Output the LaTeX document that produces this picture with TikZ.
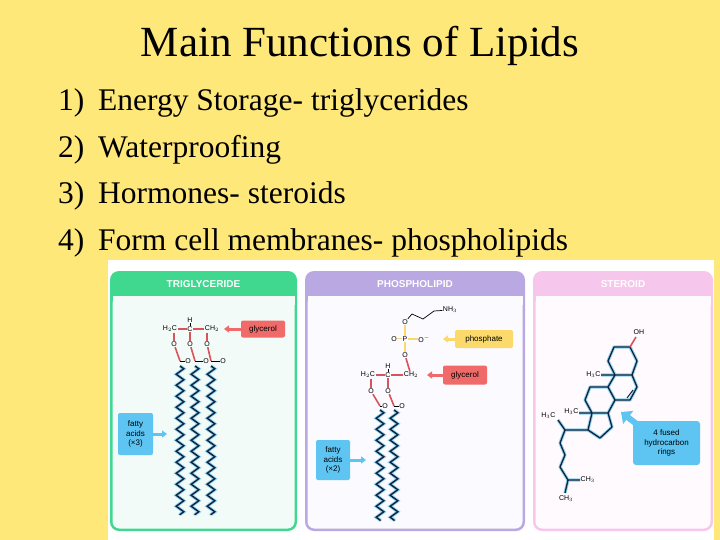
\documentclass[tikz,border=0pt]{standalone}
\usepackage{fontspec}
\setmainfont{Liberation Serif}
\newfontfamily\sans{Liberation Sans}
\usetikzlibrary{decorations.pathmorphing,arrows.meta}
\definecolor{bgy}{HTML}{FFE87A}
\definecolor{tgG}{HTML}{3FD88E}
\definecolor{tgI}{HTML}{F3FBF8}
\definecolor{phP}{HTML}{B9A8E2}
\definecolor{phI}{HTML}{FBFAFE}
\definecolor{stP}{HTML}{F7C6EC}
\definecolor{stI}{HTML}{FEFAFD}
\definecolor{bondR}{HTML}{D9535A}
\definecolor{labR}{HTML}{F06A6A}
\definecolor{labY}{HTML}{FBD96A}
\definecolor{labB}{HTML}{5EC4F2}
\definecolor{chain}{HTML}{10233F}
\definecolor{glow}{HTML}{8FD3F0}
\tikzset{
 chem/.style={font=\sans\fontsize{7}{8}\selectfont, inner sep=0.5pt},
 head/.style={font=\sans\bfseries\fontsize{10}{11}\selectfont, text=white},
 lab/.style={font=\sans\fontsize{8}{9.5}\selectfont, rounded corners=2, inner sep=2pt, align=center},
 rb/.style={bondR, line width=1.6},
 yb/.style={labY, line width=1.6},
 zz/.style={decorate, decoration={zigzag, segment length=11, amplitude=3.8}},
 tail/.style={line width=1.4, chain},
 glowl/.style={line width=3.2, glow},
 item/.style={font=\fontsize{31.5}{34}\selectfont, anchor=base west, inner sep=0},
}
\begin{document}
\begin{tikzpicture}[x=1pt,y=-1pt]
\useasboundingbox (0,0) rectangle (720,540);
\fill[bgy] (0,0) rectangle (720,540);
\node[font=\fontsize{43}{45}\selectfont] (title) at (360,46) {Main Functions of Lipids};
\foreach \n/\t/\y in {1/Energy Storage- triglycerides/111, 2/Waterproofing/158, 3/Hormones- steroids/204, 4/Form cell membranes- phospholipids/250}{
  \node[item] (num\n) at (58,\y) {\n)};
  \node[item] (it\n) at (98,\y) {\t};
}
\fill[white] (108,260) rectangle (714,540);
% panels
\foreach \xa/\xb/\bc/\ic/\nm in {110/297/tgG/tgI/TRIGLYCERIDE, 305/525/phP/phI/PHOSPHOLIPID, 533/713/stP/stI/STEROID}{
  \fill[\bc, rounded corners=9] (\xa,271) rectangle (\xb,531);
  \fill[\ic, rounded corners=7] (\xa+2.5,296) rectangle (\xb-2.5,528.5);
  \fill[\ic] (\xa+2.5,296) rectangle (\xb-2.5,305);
  \node[head] at ({(\xa+\xb)/2},284) {\nm};
}
% ---------- triglyceride
\foreach \x in {180,195,211}{
  \draw[glowl,zz] (\x,366) -- (\x,515);
  \draw[tail,zz] (\x,366) -- (\x,515);
}
\node[chem] (h2c) at (170,329) {H$_2$C};
\node[chem] (c1) at (190,329) {C};
\node[chem] (h1) at (190,320) {H};
\node[chem] (ch2) at (212,329) {CH$_2$};
\draw[rb] (h2c) -- (c1); \draw[rb] (c1) -- (ch2);
\draw[line width=0.5] (c1) -- (h1);
\foreach \i/\x/\xo in {1/174/188, 2/190/206, 3/207/223}{
  \node[chem] (o\i) at (\x,344) {O};
  \node[chem] (oo\i) at (\xo,361) {O};
}
\draw[rb] (h2c.south -| o1) -- (o1); \draw[rb] (c1) -- (o2); \draw[rb] (ch2.south -| o3) -- (o3);
\foreach \i/\x in {1/180,2/195,3/211}{
  \draw[rb] (o\i) -- (\x,361);
  \draw[line width=0.6] (\x,361) -- (oo\i);
}
\node[lab, fill=labR, minimum width=44, minimum height=17] (gly1) at (263,329) {glycerol};
\draw[labR, line width=3, -{Triangle[length=5,width=7]}] (gly1.west) -- (224,329);
\node[lab, fill=labB, minimum width=35, minimum height=42] (fa1) at (135.5,434) {fatty\\acids\\(×3)};
\draw[labB, line width=3, -{Triangle[length=5,width=7]}] (fa1.east) -- (167,434);
% ---------- phospholipid
\foreach \x in {380,394}{
  \draw[glowl,zz] (\x,410) -- (\x,521);
  \draw[tail,zz] (\x,410) -- (\x,521);
}
\node[chem] (nh3) at (450,310) {NH$_3$};
\node[chem] (po1) at (405,322) {O};
\node[chem] (pp) at (405,339) {P};
\node[chem] (pod) at (394,339) {O};
\node[chem] (pom) at (424,339) {O$^-$};
\node[chem] (po2) at (405,355) {O};
\draw[line width=0.7] (po1) -- (412,314) -- (423,319) -- (434,311) -- (nh3);
\draw[yb] (po1) -- (pp); \draw[yb] (pp) -- (po2); \draw[yb] (pp) -- (pom);
\draw[labY, line width=0.8, double] (pp) -- (pod);
\node[chem] (ph2c) at (368,375) {H$_2$C};
\node[chem] (pc) at (388,375) {C};
\node[chem] (ph) at (388,366) {H};
\node[chem] (pch2) at (411,375) {CH$_2$};
\draw[rb] (po2) -- (pch2);
\draw[rb] (ph2c) -- (pc); \draw[rb] (pc) -- (pch2); \draw[line width=0.5] (pc) -- (ph);
\node[chem] (po3) at (371,391) {O};
\node[chem] (po4) at (388,391) {O};
\node[chem] (po5) at (385,406) {O};
\node[chem] (po6) at (402,406) {O};
\draw[rb] (ph2c.south -| po3) -- (po3); \draw[rb] (pc) -- (po4);
\draw[rb] (po3) -- (380,406); \draw[rb] (po4) -- (394,406);
\draw[line width=0.6] (380,406) -- (po5); \draw[line width=0.6] (394,406) -- (po6);
\node[lab, fill=labY, minimum width=58, minimum height=18] (phos) at (484,339) {phosphate};
\draw[labY, line width=3, -{Triangle[length=5,width=7]}] (phos.west) -- (443,339);
\node[lab, fill=labR, minimum width=44, minimum height=19] (gly2) at (465,375) {glycerol};
\draw[labR, line width=3, -{Triangle[length=5,width=7]}] (gly2.west) -- (427,375);
\node[lab, fill=labB, minimum width=34, minimum height=40] (fa2) at (333,460) {fatty\\acids\\(×2)};
\draw[labB, line width=3, -{Triangle[length=5,width=7]}] (fa2.east) -- (366,460);
% ---------- steroid
\def\ster{
 (614,347) -- (630,347) -- (637,361) -- (632,375) -- (615,375) -- (608,361) -- cycle
 (632,375) -- (637,387) -- (630,400) -- (615,400) -- (608,387) -- (615,375)
 (608,387) -- (590,387) -- (585,400) -- (592,413) -- (608,413) -- (615,400)
 (608,413) -- (612,427) -- (600,438) -- (588,430) -- (592,413)
 (615,375) -- (601,375)
 (592,413) -- (579,413)
 (588,430) -- (565,430) -- (558,420)
 (565,430) -- (560,443) -- (565,455) -- (560,467) -- (568,480) -- (580,480)
 (568,480) -- (565,493)
}
\draw[glow, line width=3.2, line join=round] \ster;
\draw[chain, line width=1.3, line join=round] \ster;
\draw[chain, line width=1] (633,390) -- (627,398);
\draw[bondR, line width=1.6] (630,347) -- (636,337);
\node[chem, anchor=west] (oh) at (633,332) {OH};
\node[chem, anchor=east] (me1) at (601,375) {H$_3$C};
\node[chem, anchor=east] (me2) at (579,412) {H$_3$C};
\node[chem, anchor=east] (me3) at (556,416) {H$_3$C};
\node[chem, anchor=west] (me4) at (580,480) {CH$_3$};
\node[chem] (me5) at (566,499) {CH$_3$};
\node[lab, fill=labB, minimum width=67, minimum height=44, rounded corners=3] (fused) at (666.5,443) {4 fused\\hydrocarbon\\rings};
\coordinate (ftip) at (621,412);
\draw[labB, line width=6, -{Triangle[length=9,width=16]}] (fused.north west) ++(10,8) -- (ftip);
\end{tikzpicture}
\end{document}
